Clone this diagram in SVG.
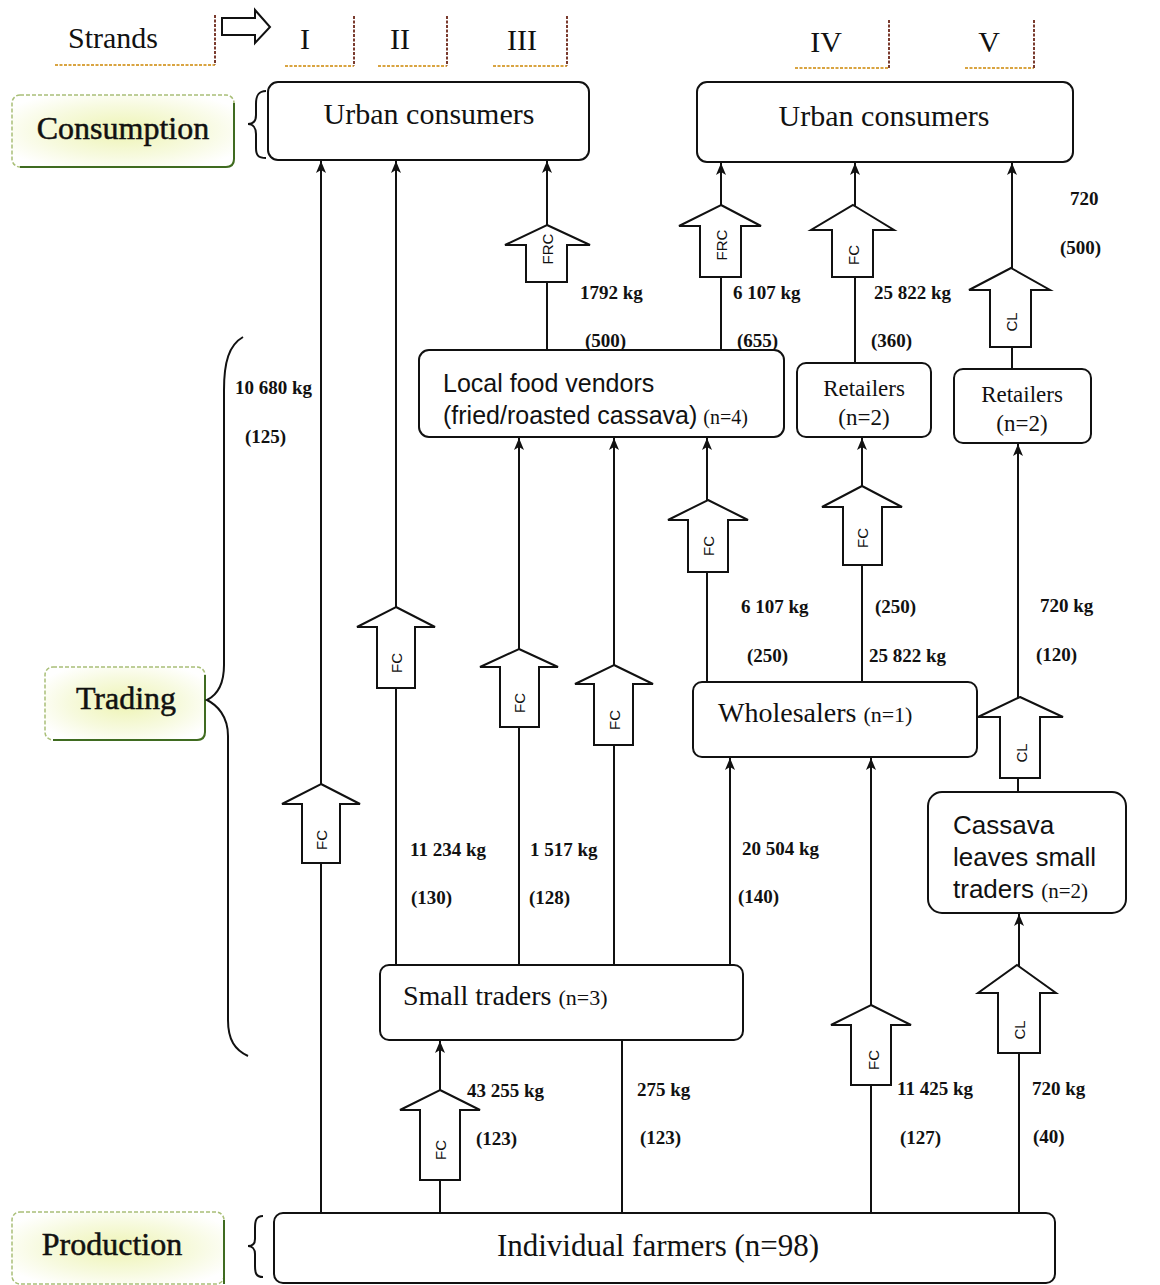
<svg xmlns="http://www.w3.org/2000/svg" xmlns:xlink="http://www.w3.org/1999/xlink" width="1160" height="1285" viewBox="0 0 1160 1285">
<style>
.box{fill:#fff;stroke:#111;stroke-width:2}
.lbl{stroke:#a9bf78;stroke-width:1.5;stroke-dasharray:4,2}
.lblb{fill:none;stroke:#3f6b20;stroke-width:2}
.ln{fill:none;stroke:#111;stroke-width:2}
.blk{fill:#fff;stroke:#111;stroke-width:2;stroke-linejoin:miter}
.brace{fill:none;stroke:#111;stroke-width:2}
.ser{font-family:"Liberation Serif","Times New Roman",serif;fill:#111}
.sans{font-family:"Liberation Sans",Arial,sans-serif;fill:#111}
.big{font-size:30px}
.stage{font-size:32px;stroke:#111;stroke-width:0.5}
.num{font-family:"Liberation Serif","Times New Roman",serif;font-size:19px;font-weight:bold;fill:#111}
.bl{font-family:"Liberation Sans",Arial,sans-serif;font-size:15px;fill:#111;text-anchor:middle;dominant-baseline:central}
.hz{stroke:#d9a441;stroke-width:2;stroke-dasharray:3,1.5}
.vt{stroke:#7a3b2e;stroke-width:2;stroke-dasharray:3,1.5}
</style>
<defs>
<radialGradient id="hl" cx="0.5" cy="0.5" r="0.6">
<stop offset="0" stop-color="#eef4b4"/>
<stop offset="0.6" stop-color="#f7fadf"/>
<stop offset="1" stop-color="#ffffff"/>
</radialGradient>
<marker id="ah" markerWidth="12" markerHeight="10" refX="12" refY="5" orient="auto" markerUnits="userSpaceOnUse" viewBox="0 0 12 10">
<path d="M0,0 L12,5 L0,10 L3,5 Z" fill="#111"/>
</marker>
</defs>

<g id="strands">
<text class="ser big" x="68" y="48">Strands</text>
<line class="hz" x1="55" y1="65" x2="215" y2="65"/>
<line class="vt" x1="215" y1="15" x2="215" y2="65"/>
<path d="M222,18 L255,18 L255,10 L270,27 L255,43 L255,35 L222,35 Z" fill="#fff" stroke="#111" stroke-width="2"/>
<text class="ser big" x="305" y="49" text-anchor="middle">I</text>
<line class="hz" x1="285" y1="66" x2="354" y2="66"/>
<line class="vt" x1="354" y1="16" x2="354" y2="66"/>
<text class="ser big" x="400" y="49" text-anchor="middle">II</text>
<line class="hz" x1="378" y1="66" x2="447" y2="66"/>
<line class="vt" x1="447" y1="16" x2="447" y2="66"/>
<text class="ser big" x="522" y="50" text-anchor="middle">III</text>
<line class="hz" x1="493" y1="66" x2="567" y2="66"/>
<line class="vt" x1="567" y1="16" x2="567" y2="66"/>
<text class="ser big" x="826" y="52" text-anchor="middle">IV</text>
<line class="hz" x1="795" y1="68" x2="889" y2="68"/>
<line class="vt" x1="889" y1="20" x2="889" y2="68"/>
<text class="ser big" x="989" y="52" text-anchor="middle">V</text>
<line class="hz" x1="965" y1="68" x2="1034" y2="68"/>
<line class="vt" x1="1034" y1="20" x2="1034" y2="68"/>
</g>

<g id="stage-consumption">
<rect class="lbl" x="12" y="95" width="222" height="72" rx="8" fill="url(#hl)"/>
<path class="lblb" d="M234,103 L234,159 Q234,167 226,167 L20,167"/>
<text class="ser stage" x="123" y="139" text-anchor="middle">Consumption</text>
<path class="brace" d="M266,91 C258,91 256,96 256,104 L256,115 C256,121 253,124 248,124 C253,124 256,128 256,134 L256,148 C256,155 258,158 266,158"/>
</g>
<g id="stage-trading">
<rect class="lbl" x="45" y="667" width="160" height="73" rx="8" fill="url(#hl)"/>
<path class="lblb" d="M205,675 L205,732 Q205,740 197,740 L53,740"/>
<text class="ser stage" x="126" y="709" text-anchor="middle">Trading</text>
<path class="brace" d="M243,337 C229,345 224,362 224,390 L224,665 C224,684 217,695 207,700 C217,705 228,716 228,736 L228,1020 C228,1040 235,1050 248,1056"/>
</g>
<g id="stage-production">
<rect class="lbl" x="12" y="1212" width="212" height="72" rx="8" fill="url(#hl)"/>
<path class="lblb" d="M224,1220 L224,1284"/>
<text class="ser stage" x="112" y="1255" text-anchor="middle">Production</text>
<path class="brace" d="M263,1216 C256,1216 255,1221 255,1228 L255,1239 C255,1244 252,1246 248,1246 C252,1246 255,1249 255,1254 L255,1266 C255,1273 256,1277 263,1277"/>
</g>

<g id="connectors">
<line class="ln" x1="321" y1="1213" x2="321" y2="161" marker-end="url(#ah)"/>
<line class="ln" x1="396" y1="965" x2="396" y2="161" marker-end="url(#ah)"/>
<line class="ln" x1="519" y1="965" x2="519" y2="438" marker-end="url(#ah)"/>
<line class="ln" x1="614" y1="965" x2="614" y2="438" marker-end="url(#ah)"/>
<line class="ln" x1="622" y1="1213" x2="622" y2="1040"/>
<line class="ln" x1="730" y1="965" x2="730" y2="758" marker-end="url(#ah)"/>
<line class="ln" x1="440" y1="1213" x2="440" y2="1041" marker-end="url(#ah)"/>
<line class="ln" x1="871" y1="1213" x2="871" y2="758" marker-end="url(#ah)"/>
<line class="ln" x1="1019" y1="1213" x2="1019" y2="914" marker-end="url(#ah)"/>
<line class="ln" x1="707" y1="682" x2="707" y2="438" marker-end="url(#ah)"/>
<line class="ln" x1="862" y1="682" x2="862" y2="438" marker-end="url(#ah)"/>
<line class="ln" x1="1018" y1="792" x2="1018" y2="444" marker-end="url(#ah)"/>
<line class="ln" x1="547" y1="350" x2="547" y2="161" marker-end="url(#ah)"/>
<line class="ln" x1="721" y1="350" x2="721" y2="163" marker-end="url(#ah)"/>
<line class="ln" x1="855" y1="363" x2="855" y2="163" marker-end="url(#ah)"/>
<line class="ln" x1="1012" y1="369" x2="1012" y2="163" marker-end="url(#ah)"/>
</g>

<g id="block-arrows">
<path class="blk" d="M321,784 L360,804 L340,804 L340,863 L302,863 L302,804 L282,804 Z"/>
<text class="bl" transform="translate(321,840) rotate(-90)">FC</text>
<path class="blk" d="M396,607 L435,627 L415,627 L415,688 L377,688 L377,627 L357,627 Z"/>
<text class="bl" transform="translate(396,663) rotate(-90)">FC</text>
<path class="blk" d="M519,649 L558,667 L539,667 L539,727 L500,727 L500,667 L480,667 Z"/>
<text class="bl" transform="translate(519,703) rotate(-90)">FC</text>
<path class="blk" d="M614,665 L653,684 L633,684 L633,745 L594,745 L594,684 L575,684 Z"/>
<text class="bl" transform="translate(614,720) rotate(-90)">FC</text>
<path class="blk" d="M440,1090 L480,1110 L460,1110 L460,1180 L420,1180 L420,1110 L400,1110 Z"/>
<text class="bl" transform="translate(440,1150) rotate(-90)">FC</text>
<path class="blk" d="M871,1005 L911,1025 L891,1025 L891,1085 L851,1085 L851,1025 L831,1025 Z"/>
<text class="bl" transform="translate(873,1060) rotate(-90)">FC</text>
<path class="blk" d="M1017,965 L1056,993 L1040,993 L1040,1053 L998,1053 L998,993 L978,993 Z"/>
<text class="bl" transform="translate(1019,1030) rotate(-90)">CL</text>
<path class="blk" d="M708,500 L748,520 L728,520 L728,572 L688,572 L688,520 L668,520 Z"/>
<text class="bl" transform="translate(708,546) rotate(-90)">FC</text>
<path class="blk" d="M862,486 L902,507 L882,507 L882,565 L843,565 L843,507 L822,507 Z"/>
<text class="bl" transform="translate(862,538) rotate(-90)">FC</text>
<path class="blk" d="M1020,697 L1063,717 L1040,717 L1040,778 L1000,778 L1000,717 L978,717 Z"/>
<text class="bl" transform="translate(1021,753) rotate(-90)">CL</text>
<path class="blk" d="M547,225 L590,245 L567,245 L567,282 L526,282 L526,245 L505,245 Z"/>
<text class="bl" transform="translate(547,249) rotate(-90)">FRC</text>
<path class="blk" d="M721,205 L761,226 L741,226 L741,277 L700,277 L700,226 L679,226 Z"/>
<text class="bl" transform="translate(721,245) rotate(-90)">FRC</text>
<path class="blk" d="M853,205 L894,230 L873,230 L873,277 L832,277 L832,230 L811,230 Z"/>
<text class="bl" transform="translate(853,255) rotate(-90)">FC</text>
<path class="blk" d="M1011,268 L1050,290 L1031,290 L1031,347 L990,347 L990,290 L969,290 Z"/>
<text class="bl" transform="translate(1011,322) rotate(-90)">CL</text>
</g>

<g id="urban-consumers-1">
<rect class="box" x="268" y="82" width="321" height="78" rx="10"/>
<text class="ser big" x="429" y="124" text-anchor="middle">Urban consumers</text>
</g>
<g id="urban-consumers-2">
<rect class="box" x="697" y="82" width="376" height="80" rx="10"/>
<text class="ser big" x="884" y="126" text-anchor="middle">Urban consumers</text>
</g>
<g id="local-food-vendors">
<rect class="box" x="419" y="350" width="365" height="87" rx="10"/>
<text class="sans" font-size="25" x="443" y="392">Local food vendors</text>
<text class="sans" font-size="25" x="443" y="424">(fried/roasted cassava)<tspan class="ser" font-size="20" dx="6">(n=4)</tspan></text>
</g>
<g id="retailers-1">
<rect class="box" x="797" y="363" width="134" height="74" rx="9"/>
<text class="ser" font-size="23" x="864" y="396" text-anchor="middle">Retailers</text>
<text class="ser" font-size="23" x="864" y="425" text-anchor="middle">(n=2)</text>
</g>
<g id="retailers-2">
<rect class="box" x="954" y="369" width="137" height="74" rx="9"/>
<text class="ser" font-size="23" x="1022" y="402" text-anchor="middle">Retailers</text>
<text class="ser" font-size="23" x="1022" y="431" text-anchor="middle">(n=2)</text>
</g>
<g id="wholesalers">
<rect class="box" x="693" y="682" width="284" height="75" rx="9"/>
<text class="ser" font-size="28" x="718" y="722">Wholesalers <tspan font-size="22">(n=1)</tspan></text>
</g>
<g id="cassava-leaves-small-traders">
<rect class="box" x="928" y="792" width="198" height="121" rx="14"/>
<text class="sans" font-size="26" x="953" y="834">Cassava</text>
<text class="sans" font-size="26" x="953" y="866">leaves small</text>
<text class="sans" font-size="26" x="953" y="898">traders <tspan class="ser" font-size="21">(n=2)</tspan></text>
</g>
<g id="small-traders">
<rect class="box" x="380" y="965" width="363" height="75" rx="9"/>
<text class="ser" font-size="28" x="403" y="1005">Small traders <tspan font-size="22">(n=3)</tspan></text>
</g>
<g id="individual-farmers">
<rect class="box" x="274" y="1213" width="781" height="70" rx="9"/>
<text class="ser" font-size="31" x="658" y="1256" text-anchor="middle">Individual farmers (n=98)</text>
</g>

<g id="flow-labels">
<text class="num" x="235" y="394">10 680 kg</text>
<text class="num" x="245" y="443">(125)</text>
<text class="num" x="410" y="856">11 234 kg</text>
<text class="num" x="411" y="904">(130)</text>
<text class="num" x="530" y="856">1 517 kg</text>
<text class="num" x="529" y="904">(128)</text>
<text class="num" x="742" y="855">20 504 kg</text>
<text class="num" x="738" y="903">(140)</text>
<text class="num" x="467" y="1097">43 255 kg</text>
<text class="num" x="476" y="1145">(123)</text>
<text class="num" x="637" y="1096">275 kg</text>
<text class="num" x="640" y="1144">(123)</text>
<text class="num" x="897" y="1095">11 425 kg</text>
<text class="num" x="900" y="1144">(127)</text>
<text class="num" x="1032" y="1095">720 kg</text>
<text class="num" x="1033" y="1143">(40)</text>
<text class="num" x="741" y="613">6 107 kg</text>
<text class="num" x="747" y="662">(250)</text>
<text class="num" x="875" y="613">(250)</text>
<text class="num" x="869" y="662">25 822 kg</text>
<text class="num" x="1040" y="612">720 kg</text>
<text class="num" x="1036" y="661">(120)</text>
<text class="num" x="580" y="299">1792 kg</text>
<text class="num" x="585" y="347">(500)</text>
<text class="num" x="733" y="299">6 107 kg</text>
<text class="num" x="737" y="347">(655)</text>
<text class="num" x="874" y="299">25 822 kg</text>
<text class="num" x="871" y="347">(360)</text>
<text class="num" x="1070" y="205">720</text>
<text class="num" x="1060" y="254">(500)</text>
</g>
</svg>
